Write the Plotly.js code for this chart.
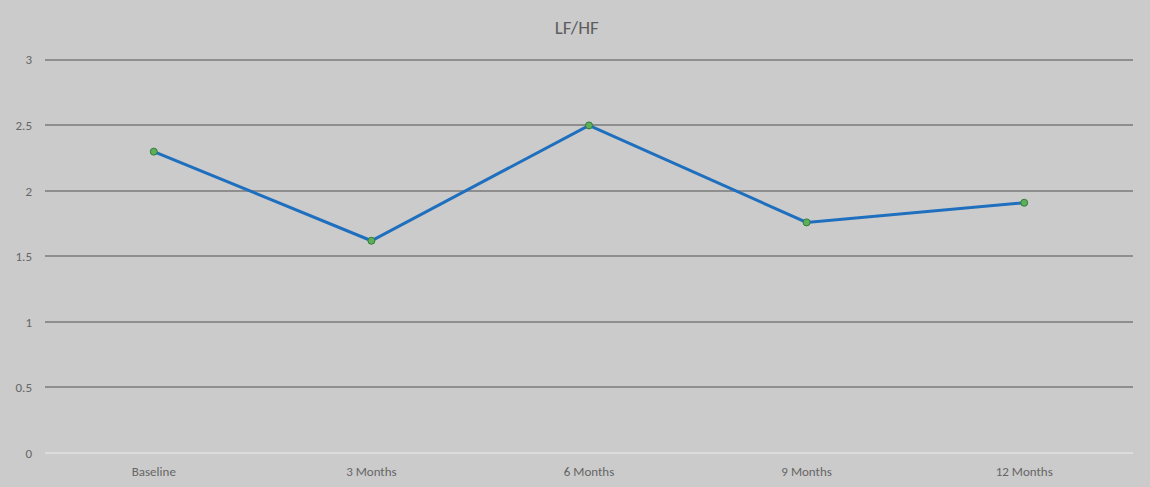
<!DOCTYPE html>
<html>
<head>
<meta charset="utf-8">
<script src="https://cdn.plot.ly/plotly-3.0.1.min.js"></script>
<style>
html,body{margin:0;padding:0;background:#d6d6d6;}
#chart{width:1150px;height:487px;}
</style>
</head>
<body>
<div id="chart"></div>
<script>
var categories = ["Baseline", "3 Months", "6 Months", "9 Months", "12 Months"];
var lfhf = [2.3, 1.62, 2.5, 1.76, 1.91];
var yTickVals = [0, 0.5, 1, 1.5, 2, 2.5, 3];
var yTickText = ["0", "0.5", "1", "1.5", "2", "2.5", "3"];
var chartTitle = "LF/HF";

var trace = {
  x: categories,
  y: lfhf,
  type: "scatter",
  mode: "lines+markers",
  line: {color: "#1f6fbf", width: 3},
  marker: {color: "#5fae5a", size: 7, line: {color: "#2f7d3a", width: 1}},
  hoverinfo: "skip"
};

var layout = {
  width: 1150,
  height: 487,
  paper_bgcolor: "#cbcbcb",
  plot_bgcolor: "#cbcbcb",
  margin: {l: 45, r: 17, t: 56, b: 34},
  showlegend: false,
  font: {family: "Carlito, 'Open Sans', sans-serif", color: "#606060", size: 13},
  title: {text: chartTitle, x: 0.5015, xanchor: "center", y: 0.943, yanchor: "middle",
          font: {size: 19, color: "#5e5e5e", family: "Carlito, 'Open Sans', sans-serif"}},
  xaxis: {
    type: "category",
    range: [-0.5, 4.5],
    showgrid: false,
    zeroline: false,
    showline: false,
    ticks: "",
    tickfont: {size: 13, color: "#666666"},
    ticklabelstandoff: 9,
    fixedrange: true
  },
  yaxis: {
    range: [0, 3.03],
    tickvals: yTickVals,
    ticktext: yTickText,
    showgrid: true,
    gridcolor: "#8e8e8e",
    gridwidth: 2,
    zeroline: true,
    zerolinecolor: "#dcdcdc",
    zerolinewidth: 2,
    showline: false,
    ticks: "",
    ticklabelstandoff: 12,
    tickfont: {size: 13, color: "#666666"},
    fixedrange: true
  }
};

Plotly.newPlot("chart", [trace], layout, {displayModeBar: false, staticPlot: true});
</script>
</body>
</html>
